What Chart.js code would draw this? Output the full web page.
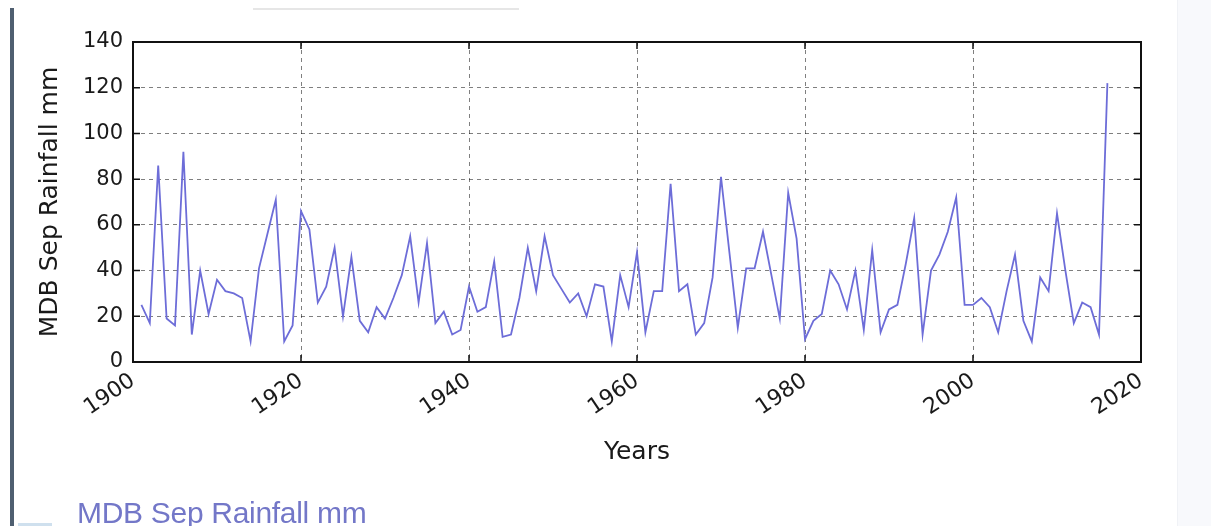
<!DOCTYPE html>
<html>
<head>
<meta charset="utf-8">
<script src="https://cdn.jsdelivr.net/npm/chart.js@4.4.0/dist/chart.umd.min.js"></script>
<style>
  html, body { margin: 0; padding: 0; background: #fff; }
  #page { position: relative; width: 1211px; height: 526px; overflow: hidden; background: #fff; }
  #barraEsq { position: absolute; left: 10px; top: 8px; width: 4px; height: 518px; background: #4f5f70; }
  #linhaTopo { position: absolute; left: 253px; top: 8px; width: 266px; height: 2px; background: #e6e6e6; }
  #ladoDir { position: absolute; left: 1177px; top: 0; width: 34px; height: 526px; background: #f8f9fc; border-left: 1px solid #f0f2f6; }
  #grafico { position: absolute; left: 0; top: 0; }
  #legenda { position: absolute; left: 77px; top: 496px; font-family: "Liberation Sans", Arial, sans-serif; font-size: 30px; color: #7377c8; white-space: nowrap; letter-spacing: -0.3px; }
  #marcaBaixo { position: absolute; left: 18px; top: 523px; width: 34px; height: 3px; background: #cfe0ee; }
</style>
</head>
<body>
<div id="page">
  <div id="ladoDir"></div>
  <div id="barraEsq"></div>
  <div id="linhaTopo"></div>
  <canvas id="grafico" width="1211" height="526"></canvas>
  <div id="legenda">MDB Sep Rainfall mm</div>
  <div id="marcaBaixo"></div>
</div>
<script>
// --- Dados ---
const anos = [
  1901, 1902, 1903, 1904, 1905, 1906, 1907, 1908, 1909, 1910,
  1911, 1912, 1913, 1914, 1915, 1916, 1917, 1918, 1919, 1920,
  1921, 1922, 1923, 1924, 1925, 1926, 1927, 1928, 1929, 1930,
  1931, 1932, 1933, 1934, 1935, 1936, 1937, 1938, 1939, 1940,
  1941, 1942, 1943, 1944, 1945, 1946, 1947, 1948, 1949, 1950,
  1951, 1952, 1953, 1954, 1955, 1956, 1957, 1958, 1959, 1960,
  1961, 1962, 1963, 1964, 1965, 1966, 1967, 1968, 1969, 1970,
  1971, 1972, 1973, 1974, 1975, 1976, 1977, 1978, 1979, 1980,
  1981, 1982, 1983, 1984, 1985, 1986, 1987, 1988, 1989, 1990,
  1991, 1992, 1993, 1994, 1995, 1996, 1997, 1998, 1999, 2000,
  2001, 2002, 2003, 2004, 2005, 2006, 2007, 2008, 2009, 2010,
  2011, 2012, 2013, 2014, 2015, 2016
];
const chuvaSet = [
  25, 17, 86, 19, 16, 92, 12, 40, 21, 36,
  31, 30, 28, 9, 41, 56, 71, 9, 16, 66,
  58, 26, 33, 50, 20, 46, 18, 13, 24, 19,
  28, 38, 55, 26, 52, 17, 22, 12, 14, 33,
  22, 24, 44, 11, 12, 28, 50, 31, 55, 38,
  32, 26, 30, 20, 34, 33, 9, 38, 24, 48,
  13, 31, 31, 78, 31, 34, 12, 17, 37, 81,
  48, 15, 41, 41, 57, 38, 19, 74, 54, 10,
  18, 21, 40, 34, 23, 40, 14, 49, 13, 23,
  25, 43, 63, 12, 40, 47, 57, 72, 25, 25,
  28, 24, 13, 31, 47, 18, 9, 37, 31, 65,
  40, 17, 26, 24, 12, 122
];
const ticksX = [1900, 1920, 1940, 1960, 1980, 2000, 2020];
const ticksY = [0, 20, 40, 60, 80, 100, 120, 140];
const rotuloY = "MDB Sep Rainfall mm";
const rotuloX = "Years";

const fonte = "DejaVu Sans";

// --- Moldura preta e tracinhos internos (estilo matplotlib) ---
const moldura = {
  id: "moldura",
  afterDatasetsDraw(chart) {
    const { ctx, chartArea: a, scales } = chart;
    ctx.save();
    ctx.strokeStyle = "#111";
    ctx.lineWidth = 1.5;
    ctx.beginPath();
    scales.x.ticks.forEach(t => {
      const px = scales.x.getPixelForValue(t.value);
      ctx.moveTo(px, a.top); ctx.lineTo(px, a.top + 7);
      ctx.moveTo(px, a.bottom); ctx.lineTo(px, a.bottom - 7);
    });
    scales.y.ticks.forEach(t => {
      const py = scales.y.getPixelForValue(t.value);
      ctx.moveTo(a.left, py); ctx.lineTo(a.left + 7, py);
      ctx.moveTo(a.right, py); ctx.lineTo(a.right - 7, py);
    });
    ctx.stroke();
    ctx.lineWidth = 2;
    ctx.strokeRect(a.left, a.top, a.right - a.left, a.bottom - a.top);
    ctx.restore();
  }
};

const pontos = anos.map((a, i) => ({ x: a, y: chuvaSet[i] }));

new Chart(document.getElementById("grafico").getContext("2d"), {
  type: "line",
  data: {
    datasets: [{
      label: rotuloY,
      data: pontos,
      borderColor: "#6d6dd8",
      borderWidth: 1.8,
      pointRadius: 0,
      fill: false,
      tension: 0
    }]
  },
  options: {
    responsive: false,
    animation: false,
    layout: { padding: { top: 42, right: 70, left: 0, bottom: 0 } },
    plugins: { legend: { display: false }, tooltip: { enabled: false } },
    scales: {
      x: {
        type: "linear",
        min: ticksX[0],
        max: ticksX[ticksX.length - 1],
        afterBuildTicks: s => { s.ticks = ticksX.map(v => ({ value: v })); },
        afterFit: s => { s.height = 164; },
        grid: { color: "rgba(0,0,0,0.5)", lineWidth: 1, drawTicks: false },
        border: { display: false, dash: [4, 4] },
        ticks: {
          color: "#1a1a1a",
          font: { family: fonte, size: 22 },
          minRotation: 34,
          maxRotation: 34,
          padding: 6,
          callback: v => String(v)
        },
        title: {
          display: true,
          text: rotuloX,
          color: "#1a1a1a",
          font: { family: fonte, size: 25 },
          padding: { top: 0, bottom: 59 }
        }
      },
      y: {
        min: ticksY[0],
        max: ticksY[ticksY.length - 1],
        afterBuildTicks: s => { s.ticks = ticksY.map(v => ({ value: v })); },
        afterFit: s => { s.width = 133; },
        grid: { color: "rgba(0,0,0,0.5)", lineWidth: 1, drawTicks: false },
        border: { display: false, dash: [4, 4] },
        ticks: {
          color: "#1a1a1a",
          font: { family: fonte, size: 21 },
          padding: 10,
          callback: v => String(v)
        },
        title: {
          display: true,
          text: rotuloY,
          color: "#1a1a1a",
          font: { family: fonte, size: 25 },
          padding: { top: 35, bottom: 0 }
        }
      }
    }
  },
  plugins: [moldura]
});
</script>
</body>
</html>
